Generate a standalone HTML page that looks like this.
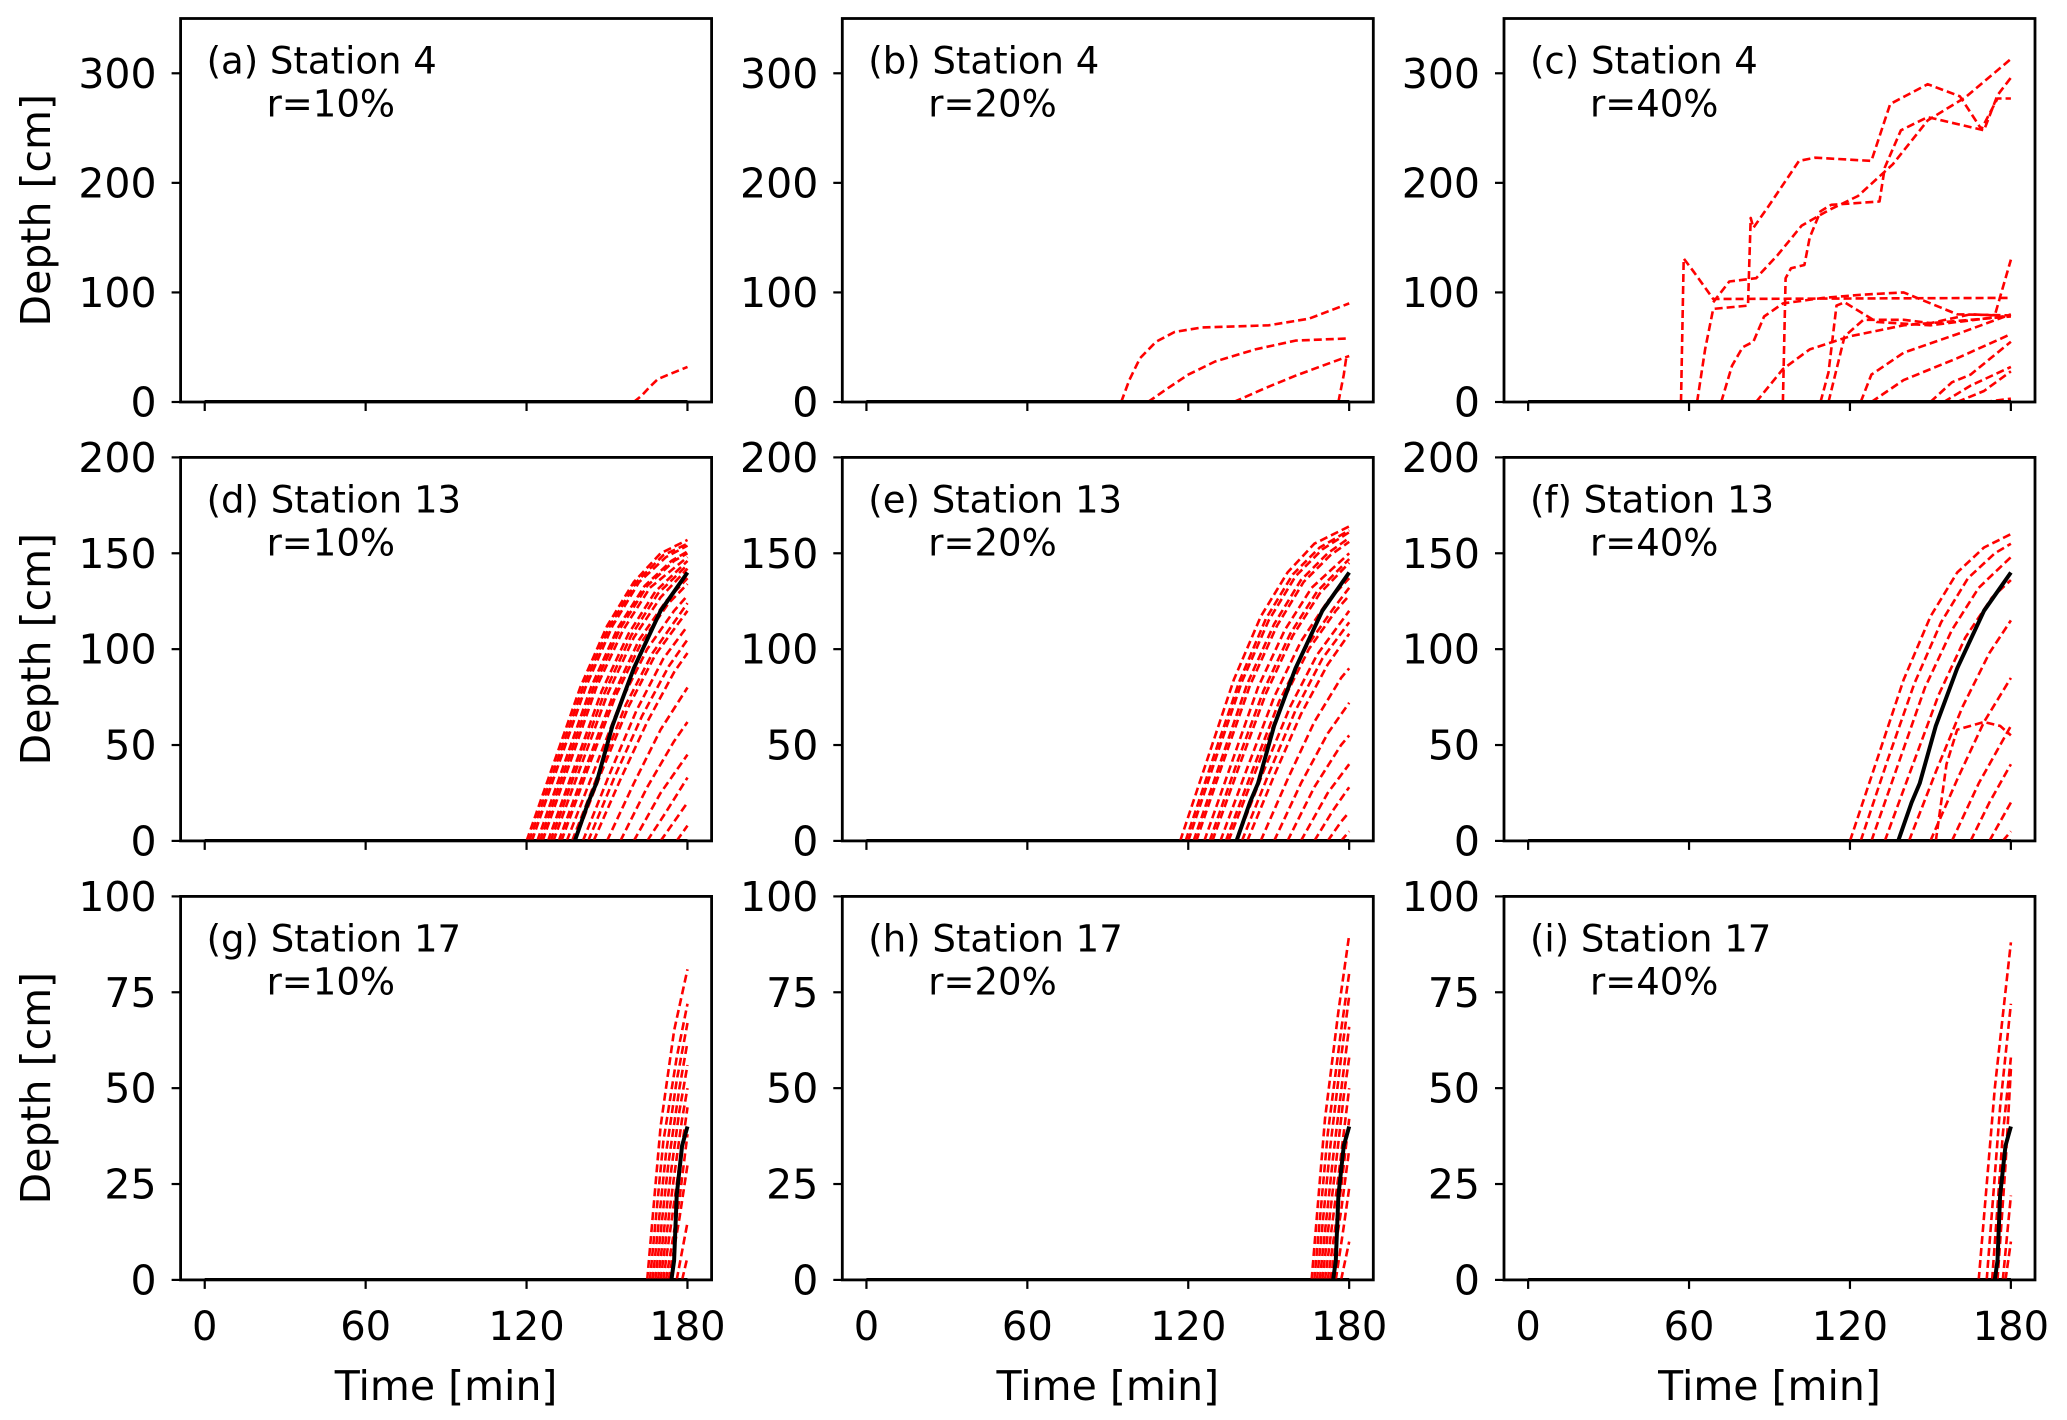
<!DOCTYPE html>
<html><head><meta charset="utf-8">
<style>
html,body{margin:0;padding:0;background:#fff;}
svg{display:block;}
text{font-family:"DejaVu Sans","Liberation Sans",sans-serif;fill:#000;}
</style></head>
<body>
<svg id="chart" width="2067" height="1420" viewBox="0 0 2067 1420" xmlns="http://www.w3.org/2000/svg"></svg>
<script>
// ---- data ----
const xTicks = [0, 60, 120, 180];
const yTicksRow1 = [0, 100, 200, 300];
const yTicksRow2 = [0, 50, 100, 150, 200];
const yTicksRow3 = [0, 25, 50, 75, 100];
const yMaxRows = [350, 200, 100];
const panelTitles = ["(a) Station 4","(b) Station 4","(c) Station 4","(d) Station 13","(e) Station 13","(f) Station 13","(g) Station 17","(h) Station 17","(i) Station 17"];
const panelRatios = ["r=10%","r=20%","r=40%","r=10%","r=20%","r=40%","r=10%","r=20%","r=40%"];
const baseline = [[0,0],[180,0]];

const redA = [[[160,0],[163,6],[166,14],[169,21],[173,25],[180,32]]];
const blackA = [[0,0],[180,0]];

const redB = [
 [[95,0],[98,20],[102,40],[108,55],[115,64],[125,68],[150,70],[165,76],[180,90]],
 [[105,0],[112,12],[120,25],[130,37],[145,48],[160,56],[180,58]],
 [[137,0],[148,12],[160,24],[170,33],[180,42]],
 [[176,0],[178,25],[179,42]]
];
const blackB = [[0,0],[180,0]];

const redC = [
 [[57,0],[58,131],[62,118],[69,94],[180,95]],
 [[69,91],[75,110],[85,113],[93,134],[102,161],[112,175],[123,188],[136,217],[149,257],[163,278],[180,313]],
 [[63,0],[66,48],[69,85],[82,88],[83,168],[84,159],[90,180],[101,220],[107,223],[128,220],[135,272],[149,290],[161,279],[169,249],[175,277],[180,277]],
 [[95,0],[96,113],[98,122],[103,125],[105,150],[109,174],[113,180],[131,183],[133,214],[139,248],[149,260],[163,252],[170,248],[175,280],[180,296]],
 [[72,0],[76,33],[80,50],[84,55],[88,78],[95,90],[110,95],[125,98],[140,100],[160,80],[180,79]],
 [[109,0],[112,27],[115,88],[118,91],[124,82],[130,73],[150,70],[180,79]],
 [[124,0],[128,25],[140,45],[160,62],[180,80]],
 [[85,0],[95,30],[105,48],[120,60],[140,70],[180,78]],
 [[128,0],[140,20],[160,40],[180,62]],
 [[150,0],[158,18],[165,25],[180,55]],
 [[155,0],[165,15],[180,32]],
 [[160,0],[170,10],[180,28]],
 [[112,0],[118,60],[125,75],[140,75],[150,72],[165,80],[174,79],[180,130]],
 [[170,0],[180,3]]
];
const blackC = [[0,0],[180,0]];

const redD = [
 [[120,0],[130,40],[140,80],[150,112],[160,135],[170,150],[180,157]],
 [[121,0],[131,40],[141,80],[151,112],[161,135],[171,149],[180,155]],
 [[122,0],[132,40],[142,80],[152,112],[162,135],[172,148],[180,154]],
 [[124,0],[134,40],[144,80],[154,111],[164,133],[174,146],[180,151]],
 [[125,0],[135,40],[145,80],[155,111],[165,133],[175,146],[180,150]],
 [[126,0],[136,40],[146,80],[156,110],[166,132],[180,148]],
 [[128,0],[138,39],[148,78],[158,108],[168,130],[180,146]],
 [[129,0],[139,39],[149,77],[159,107],[169,129],[180,144]],
 [[130,0],[140,38],[150,76],[160,106],[170,127],[180,142]],
 [[132,0],[142,38],[152,75],[162,105],[172,125],[180,137]],
 [[133,0],[143,38],[153,75],[163,104],[173,124],[180,134]],
 [[135,0],[145,36],[155,72],[165,100],[175,120],[180,128]],
 [[137,0],[147,36],[157,71],[167,98],[180,124]],
 [[138,0],[148,36],[158,70],[168,97],[180,120]],
 [[141,0],[151,35],[161,68],[171,95],[180,112]],
 [[143,0],[153,34],[163,65],[173,91],[180,105]],
 [[145,0],[155,32],[165,62],[175,88],[180,98]],
 [[150,0],[160,30],[170,58],[180,80]],
 [[155,0],[165,28],[175,52],[180,62]],
 [[160,0],[170,25],[180,45]],
 [[165,0],[172,15],[180,33]],
 [[170,0],[175,10],[180,20]],
 [[176,0],[180,8]]
];
const blackD = [[138,0],[143,20],[146,30],[152,60],[160,90],[170,120],[180,140]];

const redE = [
 [[117,0],[127,42],[137,84],[147,117],[157,140],[167,155],[180,164]],
 [[119,0],[129,42],[139,83],[149,116],[159,139],[169,153],[180,162]],
 [[120,0],[130,42],[140,83],[150,115],[160,138],[170,152],[180,161]],
 [[122,0],[132,41],[142,82],[152,113],[162,136],[172,150],[180,158]],
 [[123,0],[133,41],[143,81],[153,112],[163,135],[173,149],[180,156]],
 [[126,0],[136,40],[146,80],[156,110],[166,132],[180,150]],
 [[128,0],[138,40],[148,78],[158,108],[168,130],[180,147]],
 [[129,0],[139,39],[149,77],[159,107],[169,129],[180,145]],
 [[132,0],[142,38],[152,75],[162,104],[172,125],[180,137]],
 [[134,0],[144,37],[154,73],[164,101],[174,121],[180,132]],
 [[135,0],[145,36],[155,72],[165,100],[175,120],[180,128]],
 [[138,0],[148,36],[158,70],[168,97],[180,120]],
 [[140,0],[150,35],[160,68],[170,95],[180,114]],
 [[142,0],[152,34],[162,66],[172,92],[180,108]],
 [[147,0],[157,32],[167,62],[177,85],[180,90]],
 [[152,0],[162,30],[172,56],[180,72]],
 [[157,0],[167,28],[177,50],[180,55]],
 [[162,0],[172,25],[180,40]],
 [[167,0],[174,16],[180,28]],
 [[172,0],[177,10],[180,15]],
 [[177,0],[180,5]]
];
const blackE = [[138,0],[143,20],[146,30],[152,60],[160,90],[170,120],[180,140]];

const redF = [
 [[120,0],[130,42],[140,84],[150,117],[160,140],[170,153],[180,160]],
 [[124,0],[134,42],[144,82],[154,114],[164,137],[174,150],[180,155]],
 [[128,0],[138,40],[148,80],[158,110],[168,132],[180,148]],
 [[133,0],[143,38],[153,76],[163,106],[173,127],[180,136]],
 [[142,0],[152,36],[162,70],[172,98],[180,115]],
 [[150,0],[160,32],[170,62],[180,85]],
 [[152,0],[156,40],[160,58],[170,62],[176,60],[180,55]],
 [[158,0],[168,30],[180,60]],
 [[165,0],[172,20],[180,40]],
 [[172,0],[176,10],[180,20]],
 [[177,0],[180,5]]
];
const blackF = [[138,0],[143,20],[146,30],[152,60],[160,90],[170,120],[180,140]];

const redG = [
 [[165,0],[170,40],[175,65],[180,81]],
 [[166,0],[171,36],[176,58],[180,72]],
 [[167,0],[172,33],[176,52],[180,67]],
 [[168,0],[173,31],[177,50],[180,62]],
 [[169,0],[174,29],[177,44],[180,56]],
 [[170,0],[175,27],[178,42],[180,50]],
 [[171,0],[176,25],[180,45]],
 [[172,0],[177,21],[180,38]],
 [[173,0],[177,16],[180,30]],
 [[176,0],[180,15]],
 [[178,0],[180,6]]
];
const blackG = [[174,0],[175,5],[176,22],[178,35],[180,40]];

const redH = [
 [[166,0],[171,42],[176,70],[180,90]],
 [[167,0],[172,38],[177,65],[180,80]],
 [[168,0],[173,35],[177,58],[180,74]],
 [[169,0],[174,32],[178,55],[180,66]],
 [[170,0],[175,30],[178,48],[180,58]],
 [[171,0],[176,27],[180,50]],
 [[172,0],[177,24],[180,42]],
 [[173,0],[177,18],[180,34]],
 [[175,0],[178,14],[180,24]],
 [[177,0],[180,10]]
];
const blackH = [[174,0],[175,5],[176,22],[178,35],[180,40]];

const redI = [
 [[168,0],[174,50],[180,88]],
 [[171,0],[176,45],[180,72]],
 [[173,0],[177,38],[180,58]],
 [[175,0],[178,30],[180,55]],
 [[177,0],[180,22]],
 [[178,0],[180,10]]
];
const blackI = [[174,0],[175,5],[176,22],[178,35],[180,40]];

const redAll = [redA, redB, redC, redD, redE, redF, redG, redH, redI];
const blackAll = [blackA, blackB, blackC, blackD, blackE, blackF, blackG, blackH, blackI];
const yTickRows = [yTicksRow1, yTicksRow2, yTicksRow3];

// ---- layout ----
const NS = "http://www.w3.org/2000/svg";
const svg = document.getElementById("chart");
const colLeft = [180.6, 842.3, 1504];
const rowTop = [18.5, 457.4, 896.4];
const W = 531, H = 383.5;
const XMIN = -9, XMAX = 189;

function mk(tag, attrs, parent) {
  const e = document.createElementNS(NS, tag);
  for (const k in attrs) e.setAttribute(k, attrs[k]);
  (parent || svg).appendChild(e);
  return e;
}

for (let p = 0; p < 9; p++) {
  const r = Math.floor(p / 3), c = p % 3;
  const L = colLeft[c], T = rowTop[r];
  const ymax = yMaxRows[r];
  const xs = t => L + (t - XMIN) / (XMAX - XMIN) * W;
  const ys = d => T + H - d / ymax * H;
  const g = mk("g", {});
  
  
  const clipId = "clip" + p;
  const cp = mk("clipPath", {id: clipId}, g);
  mk("rect", {x: L, y: T, width: W, height: H}, cp);
  const plot = mk("g", {"clip-path": "url(#" + clipId + ")"}, g);

  const toPts = arr => arr.map(q => xs(q[0]).toFixed(1) + "," + ys(q[1]).toFixed(1)).join(" ");
  const bl = mk("polyline", {points: toPts(baseline), fill: "none", stroke: "#000", "stroke-width": 3.8}, plot);
  
  
  redAll[p].forEach((cv, i) => {
    const pl = mk("polyline", {points: toPts(cv), fill: "none", stroke: "#ff0000", "stroke-width": 2.6, "stroke-dasharray": "8,4", "stroke-linejoin": "round"}, plot);
    
    
  });
  const bk = mk("polyline", {points: toPts(blackAll[p]), fill: "none", stroke: "#000", "stroke-width": 4, "stroke-linejoin": "round"}, plot);
  
  

  const fr = mk("rect", {x: L, y: T, width: W, height: H, fill: "none", stroke: "#000", "stroke-width": 2.8}, g);
  
  

  yTickRows[r].forEach(v => {
    const y = ys(v);
    mk("line", {x1: L - 9, y1: y, x2: L, y2: y, stroke: "#000", "stroke-width": 2.2}, g);
    const t = mk("text", {x: L - 24, y: y + 14.5, "text-anchor": "end", "font-size": 41}, g);
    t.textContent = v;
    
    
  });
  xTicks.forEach(v => {
    const x = xs(v);
    mk("line", {x1: x, y1: T + H, x2: x, y2: T + H + 9, stroke: "#000", "stroke-width": 2.2}, g);
    if (r === 2) {
      const t = mk("text", {x: x, y: 1340, "text-anchor": "middle", "font-size": 40}, g);
      t.textContent = v;
      
      
    }
  });
  if (r === 2) {
    const xl = mk("text", {x: L + W / 2, y: 1400, "text-anchor": "middle", "font-size": 41}, g);
    xl.textContent = "Time [min]";
    
    
  }
  if (c === 0) {
    const cy = T + H / 2;
    const yl = mk("text", {x: 50, y: cy, "text-anchor": "middle", "font-size": 41, transform: "rotate(-90 50 " + cy + ")"}, g);
    yl.textContent = "Depth [cm]";
    
    
  }
  const t1 = mk("text", {x: L + 26, y: T + 55, "font-size": 37}, g);
  t1.textContent = panelTitles[p];
  
  
  const t2 = mk("text", {x: L + 86, y: T + 98, "font-size": 37}, g);
  t2.textContent = panelRatios[p];
  
  
}
</script>
</body></html>
